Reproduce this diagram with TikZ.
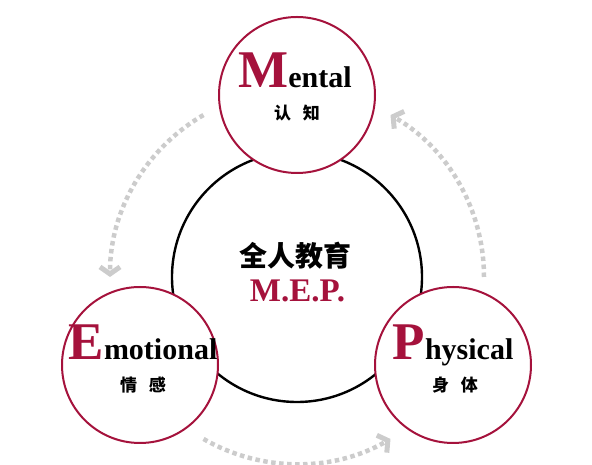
\documentclass[tikz,border=0pt]{standalone}
\usepackage{fontspec}
\setmainfont{Liberation Serif}
\newfontfamily\cjk{Noto Sans CJK SC}
\usetikzlibrary{arrows.meta}
\definecolor{mepred}{RGB}{165,18,60}
\definecolor{dotgray}{RGB}{204,204,204}
\newcommand{\bigfirst}[2]{{\fontsize{53}{53}\selectfont\color{mepred}#1}{\fontsize{30}{30}\selectfont #2}}

\begin{document}
\begin{tikzpicture}[x=1pt,y=1pt,
    ring/.style={circle,draw=mepred,line width=2pt,fill=white,minimum size=156pt,inner sep=0pt},
    word/.style={anchor=base,font=\bfseries,inner sep=0pt},
    hanzi/.style={font=\cjk\bfseries\fontsize{17}{17}\selectfont,inner sep=0pt},
    flow/.style={draw=dotgray,line width=4.5pt,dash pattern=on 4.5pt off 3.5pt,
        -{Straight Barb[length=7pt,width=20pt,line width=5pt]}}]
    \useasboundingbox (0,0) rectangle (592,465);
    \coordinate (c) at (297,188);
    \foreach \a in {0,120,240}
        \draw[flow] ([shift={(\a:187)}]c) arc[start angle=\a, end angle=\a+60, radius=187];
    \node[circle,draw,line width=2.4pt,minimum size=250pt,inner sep=0pt] (core) at (c) {};
    \node[ring] (mental) at (297,370) {};
    \node[ring] (emotional) at (140,100) {};
    \node[ring] (physical) at (453,100) {};
    \node[word] (mentalw) at ([xshift=-2pt,yshift=7pt]mental.center) {\bigfirst{M}{ental}};
    \node[hanzi] (mentalc) at ([yshift=-18pt]mental.center) {认\hspace{0.7em}知};
    \node[word] (emotionalw) at ([xshift=3pt,yshift=5pt]emotional.center) {\bigfirst{E}{motional}};
    \node[hanzi] (emotionalc) at ([xshift=3pt,yshift=-20pt]emotional.center) {情\hspace{0.7em}感};
    \node[word] (physicalw) at ([yshift=5pt]physical.center) {\bigfirst{P}{hysical}};
    \node[hanzi] (physicalc) at ([xshift=2pt,yshift=-20pt]physical.center) {身\hspace{0.7em}体};
    \node[font=\cjk\bfseries\fontsize{28}{28}\selectfont,inner sep=0pt] (whole) at (295,209.5) {全人教育};
    \node[word,font=\bfseries\fontsize{33}{33}\selectfont,text=mepred] (mep) at (297.5,163) {M.E.P.};
\end{tikzpicture}
\end{document}
